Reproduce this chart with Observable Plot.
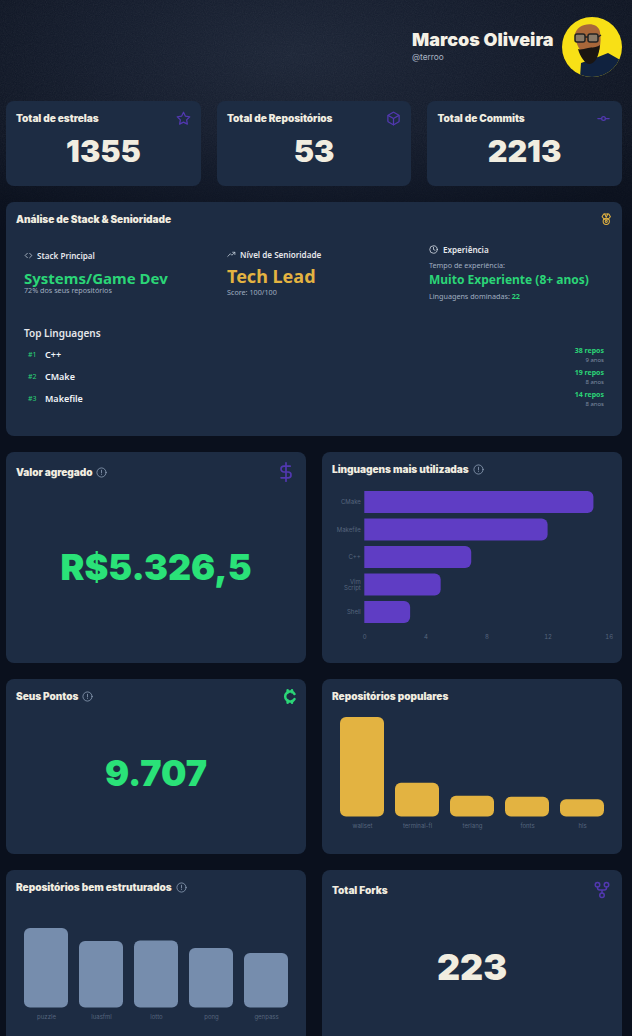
<!DOCTYPE html>
<html lang="pt-BR"><head><meta charset="utf-8">
<script src="https://cdn.jsdelivr.net/npm/d3@7"></script>
<script src="https://cdn.jsdelivr.net/npm/@observablehq/plot@0.6"></script>
<style>
html,body{margin:0;padding:0;width:632px;height:1036px;overflow:hidden;background:#0a101d;}
#page{position:relative;width:632px;height:1036px;overflow:hidden;font-family:Inter,sans-serif;color:#f1ede0;}
#bg{position:absolute;left:0;top:0;width:632px;height:1036px;background:radial-gradient(ellipse 430px 200px at 290px 55px,#1b2436 0%,#131b2c 45%,#0a101d 100%);}
#noise{position:absolute;left:0;top:0;width:632px;height:240px;opacity:.08;-webkit-mask-image:linear-gradient(#000 55%,transparent);mask-image:linear-gradient(#000 55%,transparent);}
.card{position:absolute;background:#1d2c43;border-radius:8px;overflow:hidden;}
.t{position:absolute;white-space:nowrap;transform:translateY(-50%);line-height:1;}
.h{font-weight:900;font-size:10.1px;letter-spacing:-.05px;color:#f1ede0;}
.big{font-weight:900;color:#f1ede0;transform:translate(-50%,-50%);}
.n{font-family:"Noto Sans",sans-serif;}
.ic{position:absolute;fill:none;stroke-linecap:round;stroke-linejoin:round;}
.plot{position:absolute;left:0;top:0;}
</style></head><body>
<div id="page"><div id="bg"></div>
<svg id="noise"><filter id="nf"><feTurbulence type="fractalNoise" baseFrequency="0.9" numOctaves="3" seed="4"/><feColorMatrix type="saturate" values="0"/></filter><rect width="632" height="240" filter="url(#nf)"/></svg>
</div>
<script>
const statTitles = ["Total de estrelas", "Total de Repositórios", "Total de Commits"];
const statValues = ["1355", "53", "2213"];
const topLangs = ["C++", "CMake", "Makefile"];
const topRepos = ["38 repos", "19 repos", "14 repos"];
const topYears = ["9 anos", "8 anos", "8 anos"];
const langNames = ["CMake", "Makefile", "C++", "Vim\nScript", "Shell"];
const langValues = [15, 12, 7, 5, 3];
const langTicks = [0, 4, 8, 12, 16];
const popNames = ["wallset", "terminal-fl", "terlang", "fonts", "hls"];
const popValues = [100, 34, 21, 20, 17.5];
const wellNames = ["puzzle", "luasfml", "lotto", "pong", "genpass"];
const wellValues = [80, 67, 67.5, 60, 55];

const PURPLE = "#5f3dc4", PURPLE_IC = "#5238b0", GOLD = "#e3b341", SLATE = "#768dad", GREEN = "#2ae278", GREEN2 = "#2bd577", AXIS = "#56657d", FONT = "Inter, sans-serif";
const page = document.getElementById("page");

function card(x, y, w, h) {
  const c = document.createElement("div"); c.className = "card";
  c.style.cssText = `left:${x}px;top:${y}px;width:${w}px;height:${h}px`;
  page.appendChild(c); return c;
}
function txt(s, x, y, cls, style) {
  const e = document.createElement("div"); e.className = "t " + (cls || "");
  e.textContent = s; e.style.cssText = `left:${x}px;top:${y}px;${style || ""}`;
  page.appendChild(e); return e;
}
function rtxt(s, r, y, cls, style) {
  return txt(s, 0, y, cls, `left:auto;right:${632 - r}px;${style || ""}`);
}
const P = {
  star: '<path d="M12 2l3.09 6.26L22 9.27l-5 4.87 1.18 6.88L12 17.77l-6.18 3.25L7 14.14 2 9.27l6.91-1.01z"/>',
  box: '<path d="M21 16V8a2 2 0 0 0-1-1.73l-7-4a2 2 0 0 0-2 0l-7 4A2 2 0 0 0 3 8v8a2 2 0 0 0 1 1.73l7 4a2 2 0 0 0 2 0l7-4A2 2 0 0 0 21 16z"/><path d="M3.3 7L12 12l8.7-5M12 22V12"/>',
  commit: '<circle cx="12" cy="12" r="3"/><path d="M3 12h6M15 12h6"/>',
  medal: '<path d="M7 2h10l3 5-4 5H8L4 7z"/><path d="M9 2l3 6 3-6"/><circle cx="12" cy="16" r="6"/><circle cx="12" cy="16" r="2"/>',
  dollar: '<path d="M12 1v22M17 5H9.5a3.5 3.5 0 0 0 0 7h5a3.5 3.5 0 0 1 0 7H6"/>',
  cent: '<path d="M20 8A8 8 0 1 0 20 16M9 2v4M16 2v3M9 18v4M16 19v3"/>',
  fork: '<circle cx="6" cy="5" r="3"/><circle cx="18" cy="5" r="3"/><circle cx="12" cy="19" r="3"/><path d="M6 8v1a3 3 0 0 0 3 3h6a3 3 0 0 0 3-3V8M12 12v4"/>',
  info: '<circle cx="12" cy="12" r="10"/><path d="M12 7v6M12 16.500v.01"/>',
  code: '<path d="M9 6l-6 6 6 6M15 6l6 6-6 6"/>',
  trend: '<path d="M2 17l7-7 4 4 8-8M15 6h6v6"/>',
  clock: '<circle cx="12" cy="12" r="10"/><path d="M12 6v6l4 2"/>'
};
function icon(name, x, y, size, color, sw) {
  const d = document.createElementNS("http://www.w3.org/2000/svg", "svg");
  d.setAttribute("viewBox", "0 0 24 24"); d.setAttribute("class", "ic");
  d.style.cssText = `left:${x}px;top:${y - size / 2}px;width:${size}px;height:${size}px;stroke:${color};stroke-width:${sw || 2}`;
  d.innerHTML = P[name]; page.appendChild(d);
}

/* cards */
const stats = [[6, 195], [217, 194], [427, 195]];
stats.forEach(([x, w]) => card(x, 101, w, 85));
card(6, 202, 616, 234);
const cValor = card(6, 452, 300, 211);
const cLang = card(322, 452, 300, 211);
const cPts = card(6, 679, 300, 175);
const cPop = card(322, 679, 300, 175);
const cWell = card(6, 870, 300, 175);
card(322, 870, 300, 175);

/* header */
txt("Marcos Oliveira", 412, 40, "", "font-weight:900;font-size:18px;color:#f5f1e6");
txt("@terroo", 412, 57, "", "font-size:8.300px;color:#aab4c4");
const av = document.createElementNS("http://www.w3.org/2000/svg", "svg");
av.style.cssText = "position:absolute;left:562px;top:17px;width:60px;height:60px";
av.setAttribute("viewBox", "0 0 60 60");
av.innerHTML = `<defs><clipPath id="ac"><circle cx="30" cy="30" r="30"/></clipPath></defs><g clip-path="url(#ac)">
<rect width="60" height="60" fill="#f8e016"/>
<path d="M18 60 L19 46 L36 40 L46 36 L60 44 L60 60Z" fill="#10223f"/>
<path d="M13 18 C14 6 36 3 38 15 C40 26 37 40 30 44 L24 40 C18 34 14 28 13 18Z" fill="#a9673a"/>
<path d="M16 32 C18 40 24 48 28 47 C34 46 37 38 38 28 C34 31 30 30 26 31 C22 32 18 33 16 32Z" fill="#1a1512"/>
<rect x="13" y="17" width="10" height="8" rx="2" fill="#8a7a68" stroke="#222" stroke-width="1.500"/>
<rect x="26" y="17" width="10" height="8" rx="2" fill="#8a7a68" stroke="#222" stroke-width="1.500"/>
<path d="M23 20h3M36 20l3-2" stroke="#222" stroke-width="1.500"/></g>`;
page.appendChild(av);

/* stat cards */
const statIconX = [176, 386, 596], statIcons = ["star", "box", "commit"], statTitleX = [16, 227, 437.500], statCenter = [103.500, 314, 524.500];
statTitles.forEach((s, i) => {
  txt(s, statTitleX[i], 118, "h");
  icon(statIcons[i], statIconX[i], 118, 15, PURPLE_IC, 2);
  txt(statValues[i], statCenter[i], 151, "big", "font-size:30.5px;");
});

/* analysis panel */
txt("Análise de Stack & Senioridade", 16, 219, "h");
icon("medal", 600, 219, 12.5, GOLD, 2);
const lab = "font-size:8.100px;font-weight:600;color:#e5e7eb";
const sm = "font-size:7.200px;color:#a0aec0";
icon("code", 23.500, 255.500, 9, "#cbd5e1", 2);
txt("Stack Principal", 37, 256, "n", lab);
txt("Systems/Game Dev", 24, 277.500, "n", `font-size:15px;font-weight:700;color:${GREEN2}`);
txt("72% dos seus repositórios", 24, 291, "n", sm);
icon("trend", 227, 254.500, 9, "#cbd5e1", 2);
txt("Nível de Senioridade", 240, 255, "n", lab);
txt("Tech Lead", 227, 276, "n", `font-size:18px;font-weight:700;color:${GOLD}`);
txt("Score: 100/100", 227, 293, "n", sm);
icon("clock", 429, 249.500, 9, "#e2e8f0", 2);
txt("Experiência", 443, 250, "n", lab);
txt("Tempo de experiência:", 429, 266, "n", sm);
txt("Muito Experiente (8+ anos)", 429, 280, "n", `font-size:12px;font-weight:700;color:${GREEN2}`);
const ld = txt("Linguagens dominadas: ", 429, 297, "n", sm);
const ldv = document.createElement("span"); ldv.textContent = "22"; ldv.style.cssText = `color:${GREEN2};font-weight:700`; ld.appendChild(ldv);
txt("Top Linguagens", 24, 332.500, "n", "font-size:10px;font-weight:600;color:#e5e7eb");
topLangs.forEach((l, i) => {
  const y = 353.500 + i * 22;
  txt("#" + (i + 1), 28, y, "n", `font-size:7px;color:${GREEN2}`);
  txt(l, 45, y, "n", "font-size:9px;font-weight:600;color:#f1f5f9");
  rtxt(topRepos[i], 604, y - 3.500, "n", `font-size:7px;font-weight:700;color:${GREEN2}`);
  rtxt(topYears[i], 604, y + 6, "n", "font-size:6px;color:#7d8ba1");
});

/* valor agregado / pontos / forks */
txt("Valor agregado", 16, 472, "h"); icon("info", 95.500, 472, 11, "#9fb0c8", 1.500);
icon("dollar", 276, 472, 20, PURPLE_IC, 2);
txt("R$5.326,5", 156, 568, "big", `font-size:35.8px;color:${GREEN}`);
txt("Seus Pontos", 16, 696, "h"); icon("info", 81.500, 696, 11, "#9fb0c8", 1.500);
icon("cent", 281.500, 696, 15, GREEN2, 4);
txt("9.707", 156, 774, "big", `font-size:35.8px;color:${GREEN}`);
txt("Total Forks", 332, 890, "h");
icon("fork", 593, 890, 18, PURPLE_IC, 2);
txt("223", 472, 968, "big", "font-size:35.8px");

/* chart titles */
txt("Linguagens mais utilizadas", 332, 469, "h"); icon("info", 472.500, 469, 11, "#9fb0c8", 1.500);
txt("Repositórios populares", 332, 696, "h");
txt("Repositórios bem estruturados", 16, 887, "h"); icon("info", 175.500, 887, 11, "#9fb0c8", 1.500);

/* charts */
const base = {style: {background: "transparent", fontFamily: FONT, fontSize: "6px", color: AXIS, overflow: "visible"}};
const langData = langNames.map((name, i) => ({name, value: langValues[i]}));
cLang.appendChild(Plot.plot({
  ...base, width: 300, height: 211, marginTop: 36.250, marginBottom: 37.250, marginLeft: 42.300, marginRight: 13.300,
  x: {domain: [0, 16], ticks: langTicks, tickSize: 0, tickPadding: 8, label: null},
  y: {domain: langNames, paddingInner: 0.2, paddingOuter: 0.1, align: 0.5, round: false, tickSize: 0, tickPadding: 4, label: null},
  marks: [Plot.barX(langData, {x: "value", y: "name", fill: PURPLE, rx2: 6})]
}));
function columns(names, values, fill, maxV, marginTop) {
  const data = names.map((name, i) => ({name, value: values[i]}));
  return Plot.plot({
    ...base, width: 300, height: 175, marginTop, marginBottom: 37.400, marginLeft: 12.500, marginRight: 12.500,
    x: {domain: names, paddingInner: 0.2, paddingOuter: 0.1, round: false, tickSize: 0, tickPadding: 7, label: null},
    y: {domain: [0, maxV], axis: null},
    marks: [Plot.barY(data, {x: "name", y: "value", fill, rx: 6})]
  });
}
cPop.appendChild(columns(popNames, popValues, GOLD, 100, 38));
cWell.appendChild(columns(wellNames, wellValues, SLATE, 80, 58));
</script>
</body></html>
